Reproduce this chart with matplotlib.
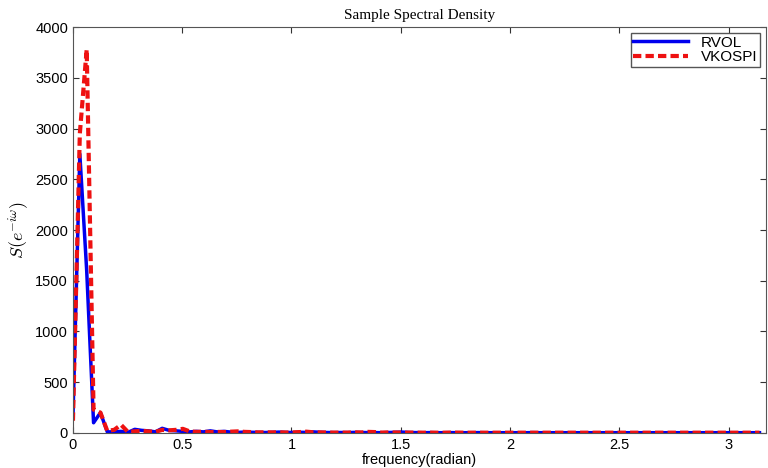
import numpy as np
import matplotlib.pyplot as plt

plt.rcParams['mathtext.fontset'] = 'cm'

# frequency grid: 0 .. pi, step 2*pi/200
freq = np.arange(101) * 2 * np.pi / 200

rvol = [150, 2750, 1600, 100, 200, 10, 10, 15, 5, 35,
        25, 20, 10, 45, 25, 20, 15, 10, 15, 10,
        20, 10, 15, 8, 5, 8, 6, 5, 4, 5,
        8, 5, 4, 6, 5, 10, 6, 4, 3, 4,
        3, 5, 4, 3, 3, 2, 4, 6, 8, 4,
        3, 2, 3, 2, 2, 3, 2, 2, 2, 3,
        2, 2, 2, 2, 2, 2, 2, 3, 2, 2,
        2, 2, 2, 2, 2, 2, 2, 2, 2, 2,
        2, 2, 2, 2, 2, 2, 2, 2, 2, 2,
        2, 2, 2, 2, 2, 2, 2, 2, 2, 2, 2]

vkospi = [120, 2950, 3780, 230, 200, 20, 30, 80, 10, 15,
          20, 15, 10, 30, 25, 30, 40, 15, 10, 12,
          8, 10, 8, 12, 15, 10, 8, 5, 6, 5,
          6, 4, 5, 8, 12, 6, 5, 4, 3, 3,
          3, 6, 4, 10, 8, 3, 5, 4, 3, 3,
          3, 2, 3, 2, 2, 3, 3, 2, 2, 2,
          2, 2, 2, 2, 2, 2, 2, 2, 2, 2,
          2, 2, 2, 2, 2, 2, 2, 2, 2, 2,
          2, 2, 2, 2, 2, 2, 2, 2, 2, 2,
          2, 2, 2, 2, 2, 2, 2, 2, 2, 2, 2]

fig = plt.figure(figsize=(7.68, 4.68), dpi=100)
ax = fig.add_axes([0.095, 0.075, 0.902, 0.867])

ax.plot(freq, rvol, color='#0000ee', linewidth=2.5, label='RVOL')
ax.plot(freq, vkospi, color='#ee1111', linewidth=3, linestyle=(0, (2, 1)),
        label='VKOSPI')

ax.set_xlim(0, 3.17)
ax.set_ylim(0, 4000)
ax.set_xticks([0, 0.5, 1, 1.5, 2, 2.5, 3])
ax.set_xticklabels(['0', '0.5', '1', '1.5', '2', '2.5', '3'])
ax.set_yticks(np.arange(0, 4001, 500))

ax.tick_params(direction='in', top=True, right=True, length=4,
               labelsize=10.5, color='#333333')
for lab in ax.get_xticklabels() + ax.get_yticklabels():
    lab.set_family('Liberation Sans')
for sp in ax.spines.values():
    sp.set_color('#555555')

ax.set_title('Sample Spectral Density', family='Liberation Serif',
             fontsize=11, pad=6)
ax.set_xlabel('frequency(radian)', family='Liberation Sans', fontsize=10.5,
              labelpad=1)
ax.set_ylabel(r'$S(e^{-i\omega})$', fontsize=13, labelpad=2)

leg = ax.legend(loc='upper right', fancybox=False, framealpha=1,
                edgecolor='#555555', prop={'family': 'Liberation Sans', 'size': 11},
                borderaxespad=0.4, handlelength=3.6, borderpad=0.15,
                labelspacing=0.05)

fig.savefig('out.png', dpi=100)
